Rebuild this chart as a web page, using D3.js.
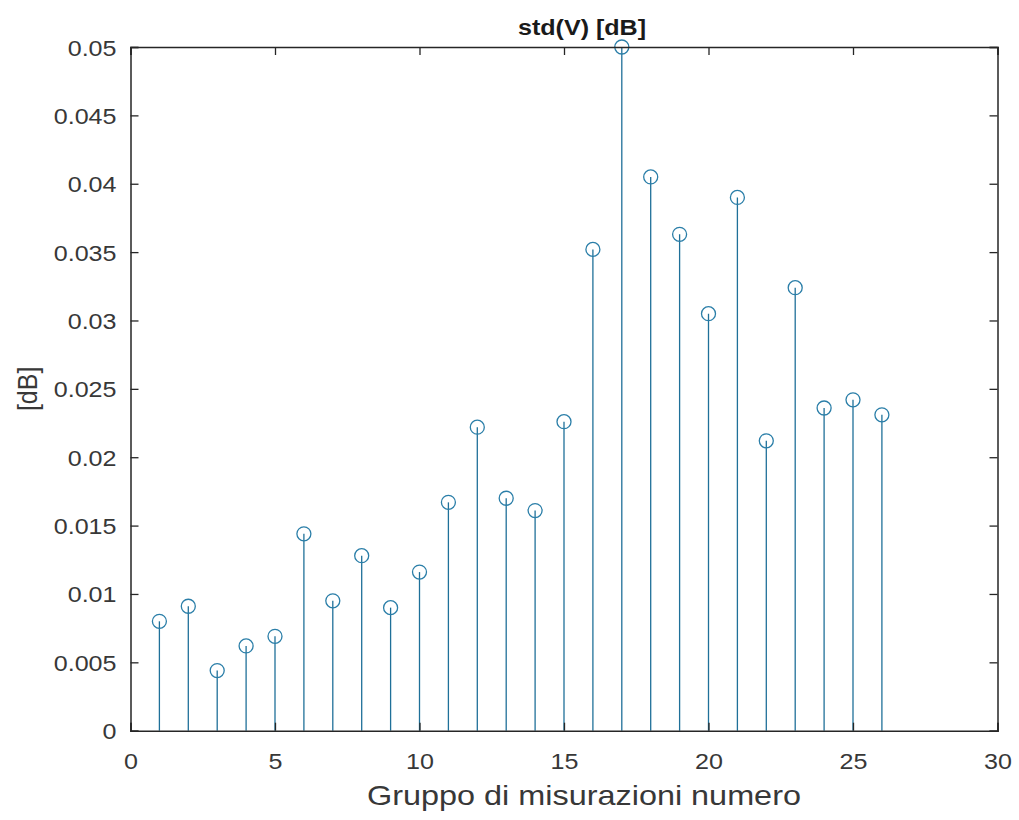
<!DOCTYPE html>
<html>
<head>
<meta charset="utf-8">
<script src="https://cdn.jsdelivr.net/npm/d3@7"></script>
<style>
  html, body { margin: 0; padding: 0; background: #fff; }
  svg { display: block; font-family: "Liberation Sans", Arial, Helvetica, sans-serif; }
</style>
</head>
<body>
<svg id="chart" width="1019" height="820"></svg>
<script>
// Measurement group index and std(V) in dB
const groups = d3.range(1, 27);
const stdValues = [
  0.0080, 0.0091, 0.0044, 0.0062, 0.0069, 0.0144, 0.0095, 0.0128, 0.0090, 0.0116,
  0.0167, 0.0222, 0.0170, 0.0161, 0.0226, 0.0352, 0.0500, 0.0405, 0.0363, 0.0305,
  0.0390, 0.0212, 0.0324, 0.0236, 0.0242, 0.0231
];
const xTicks = [0, 5, 10, 15, 20, 25, 30];
const yTicks = [0, 0.005, 0.01, 0.015, 0.02, 0.025, 0.03, 0.035, 0.04, 0.045, 0.05];
const titleText = "std(V) [dB]";
const xLabelText = "Gruppo di misurazioni numero";
const yLabelText = "[dB]";

const svg = d3.select("#chart");
const margin = { left: 130.5, top: 47, right: 1019 - 997.5, bottom: 820 - 730.7 };
const W = 1019 - margin.left - margin.right;
const H = 820 - margin.top - margin.bottom;

// Text is drawn slightly wider than tall
const stretch = 1.14;

const x = d3.scaleLinear().domain([0, 30]).range([0, W]);
const y = d3.scaleLinear().domain([0, 0.05]).range([H, 0]);

const g = svg.append("g").attr("transform", `translate(${margin.left},${margin.top})`);

const axisColor = "#262626";
const textColor = "#383838";
const tickLen = 8;

// Stems
const stemColor = "#1f7099";
g.append("g").selectAll("line")
  .data(groups)
  .join("line")
  .attr("x1", (d) => x(d)).attr("x2", (d) => x(d))
  .attr("y1", y(0))
  .attr("y2", (d, i) => y(stdValues[i]))
  .attr("stroke", stemColor)
  .attr("stroke-width", 1.3);

// Markers
g.append("g").selectAll("circle")
  .data(groups)
  .join("circle")
  .attr("cx", (d) => x(d))
  .attr("cy", (d, i) => y(stdValues[i]))
  .attr("r", 7)
  .attr("fill", "none")
  .attr("stroke", "#2a7ea8")
  .attr("stroke-width", 1.3);

// Axes: bottom and left carry labels, top and right repeat the ticks
const fmtY = (d) => d === 0 ? "0" : String(+d.toFixed(3));

const xAxis = g.append("g").attr("transform", `translate(0,${H})`)
  .call(d3.axisBottom(x).tickValues(xTicks).tickSize(-tickLen).tickFormat(d3.format("d")));
const xTop = g.append("g")
  .call(d3.axisTop(x).tickValues(xTicks).tickSize(-tickLen).tickFormat(""));
const yAxis = g.append("g")
  .call(d3.axisLeft(y).tickValues(yTicks).tickSize(-tickLen).tickFormat(fmtY));
const yRight = g.append("g").attr("transform", `translate(${W},0)`)
  .call(d3.axisRight(y).tickValues(yTicks).tickSize(-tickLen).tickFormat(""));

[xAxis, xTop, yAxis, yRight].forEach((a) => {
  a.select(".domain").attr("stroke", axisColor).attr("stroke-width", 1.5);
  a.selectAll(".tick line").attr("stroke", axisColor).attr("stroke-width", 1.3);
  a.selectAll(".tick text").attr("fill", textColor).attr("font-size", 22)
    .attr("font-family", "Liberation Sans, Arial, sans-serif");
});
xAxis.selectAll(".tick text")
  .attr("y", null).attr("dy", null)
  .attr("transform", `translate(0,38) scale(${stretch},1)`);
yAxis.selectAll(".tick text")
  .attr("x", null).attr("dy", null)
  .attr("transform", `translate(-14,8) scale(${stretch},1)`);

// Title
svg.append("text")
  .attr("transform", `translate(582,35) scale(${stretch},1)`)
  .attr("text-anchor", "middle")
  .attr("font-size", 22)
  .attr("font-weight", "bold")
  .attr("fill", "#1a1a1a")
  .text(titleText);

// X label
svg.append("text")
  .attr("transform", `translate(584,805) scale(1.2,1)`)
  .attr("text-anchor", "middle")
  .attr("font-size", 27)
  .attr("fill", textColor)
  .text(xLabelText);

// Y label
svg.append("text")
  .attr("transform", `translate(37,${margin.top + H / 2}) scale(${stretch},1) rotate(-90)`)
  .attr("text-anchor", "middle")
  .attr("font-size", 25)
  .attr("fill", textColor)
  .text(yLabelText);
</script>
</body>
</html>
